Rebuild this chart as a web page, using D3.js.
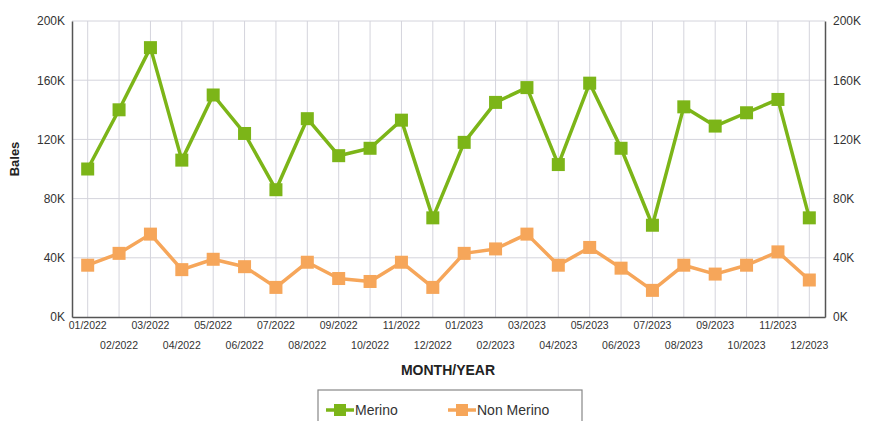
<!DOCTYPE html>
<html>
<head>
<meta charset="utf-8">
<script src="https://cdn.jsdelivr.net/npm/d3@7/dist/d3.min.js"></script>
<style>
  body { margin: 0; background: #fff; }
  text { font-family: Arial, "Liberation Sans", sans-serif; }
</style>
</head>
<body>
<svg id="chart" width="870" height="421"></svg>
<script>
const months = [
  "01/2022", "02/2022", "03/2022", "04/2022", "05/2022", "06/2022",
  "07/2022", "08/2022", "09/2022", "10/2022", "11/2022", "12/2022",
  "01/2023", "02/2023", "03/2023", "04/2023", "05/2023", "06/2023",
  "07/2023", "08/2023", "09/2023", "10/2023", "11/2023", "12/2023"
];
const merino = [
  100, 140, 182, 106, 150, 124, 86, 134, 109, 114, 133, 67,
  118, 145, 155, 103, 158, 114, 62, 142, 129, 138, 147, 67
];
const nonMerino = [
  35, 43, 56, 32, 39, 34, 20, 37, 26, 24, 37, 20,
  43, 46, 56, 35, 47, 33, 18, 35, 29, 35, 44, 25
];
const yTicks = [0, 40, 80, 120, 160, 200];

const green = "#7cb518";
const orange = "#f6a65a";

const margin = { top: 21, right: 45, bottom: 104, left: 72 };
const width = 870, height = 421;
const graphWidth = width - margin.left - margin.right;
const graphHeight = height - margin.top - margin.bottom;

const svg = d3.select("#chart");
const g = svg.append("g").attr("transform", `translate(${margin.left}, ${margin.top})`);

const x = d3.scaleBand().domain(months).range([0, graphWidth]);
const y = d3.scaleLinear().domain([0, 200]).range([graphHeight, 0]);
const cx = d => x(d) + x.bandwidth() / 2;

// grid
g.append("g")
  .selectAll("line")
  .data(months)
  .join("line")
  .attr("x1", cx).attr("x2", cx)
  .attr("y1", 0).attr("y2", graphHeight)
  .attr("stroke", "#d4d4dc").attr("stroke-width", 1);

g.append("g")
  .selectAll("line")
  .data(yTicks.slice(1))
  .join("line")
  .attr("x1", 0).attr("x2", graphWidth)
  .attr("y1", d => y(d)).attr("y2", d => y(d))
  .attr("stroke", "#d4d4dc").attr("stroke-width", 1);

// axes
const fmt = d => `${d}K`;
const yLeft = g.append("g").call(d3.axisLeft(y).tickValues(yTicks).tickFormat(fmt).tickSize(0).tickPadding(7));
const yRight = g.append("g").attr("transform", `translate(${graphWidth}, 0)`)
  .call(d3.axisRight(y).tickValues(yTicks).tickFormat(fmt).tickSize(0).tickPadding(8));
[yLeft, yRight].forEach(a => {
  a.select(".domain").attr("stroke", "#555").attr("stroke-width", 1.5);
  a.selectAll("text").attr("font-size", 12).attr("fill", "#333");
});

const xAxis = g.append("g").attr("transform", `translate(0, ${graphHeight})`)
  .call(d3.axisBottom(x).tickSize(0).tickPadding(6));
xAxis.select(".domain").attr("stroke", "#555").attr("stroke-width", 1.5);
xAxis.selectAll("text")
  .attr("font-size", 10.5)
  .attr("fill", "#333")
  .attr("dy", (d, i) => i % 2 === 0 ? "0.6em" : "2.45em");

// axis titles
g.append("text")
  .attr("x", 376)
  .attr("y", graphHeight + 58)
  .attr("text-anchor", "middle")
  .attr("font-size", 14)
  .attr("font-weight", "bold")
  .attr("fill", "#222")
  .text("MONTH/YEAR");

g.append("text")
  .attr("transform", "rotate(-90)")
  .attr("x", -graphHeight / 2 + 10)
  .attr("y", -53)
  .attr("text-anchor", "middle")
  .attr("font-size", 13)
  .attr("font-weight", "bold")
  .attr("fill", "#222")
  .text("Bales");

// series
const series = [
  { name: "Merino", values: merino, color: green },
  { name: "Non Merino", values: nonMerino, color: orange }
];
const line = d3.line().x((d, i) => cx(months[i])).y(d => y(d));

series.forEach(s => {
  g.append("path")
    .datum(s.values)
    .attr("fill", "none")
    .attr("stroke", s.color)
    .attr("stroke-width", 3.5)
    .attr("stroke-linejoin", "round")
    .attr("d", line);
  g.append("g")
    .selectAll("rect")
    .data(s.values)
    .join("rect")
    .attr("x", (d, i) => cx(months[i]) - 6.5)
    .attr("y", d => y(d) - 6.5)
    .attr("width", 13)
    .attr("height", 13)
    .attr("fill", s.color);
});

// legend
const legend = svg.append("g").attr("transform", "translate(318, 390)");
legend.append("rect")
  .attr("x", 0).attr("y", 0)
  .attr("width", 264).attr("height", 40)
  .attr("fill", "#fff")
  .attr("stroke", "#888").attr("stroke-width", 1.2);
const items = legend.selectAll("g.item")
  .data(series)
  .join("g")
  .attr("class", "item")
  .attr("transform", (d, i) => `translate(${i === 0 ? 8 : 130}, 20)`);
items.append("line")
  .attr("x1", 0).attr("x2", 28)
  .attr("stroke", d => d.color).attr("stroke-width", 3.5);
items.append("rect")
  .attr("x", 8).attr("y", -6).attr("width", 12).attr("height", 12)
  .attr("fill", d => d.color);
items.append("text")
  .attr("x", 29).attr("y", 0).attr("dy", "0.35em")
  .attr("font-size", 14).attr("fill", "#333")
  .text(d => d.name);
</script>
</body>
</html>
